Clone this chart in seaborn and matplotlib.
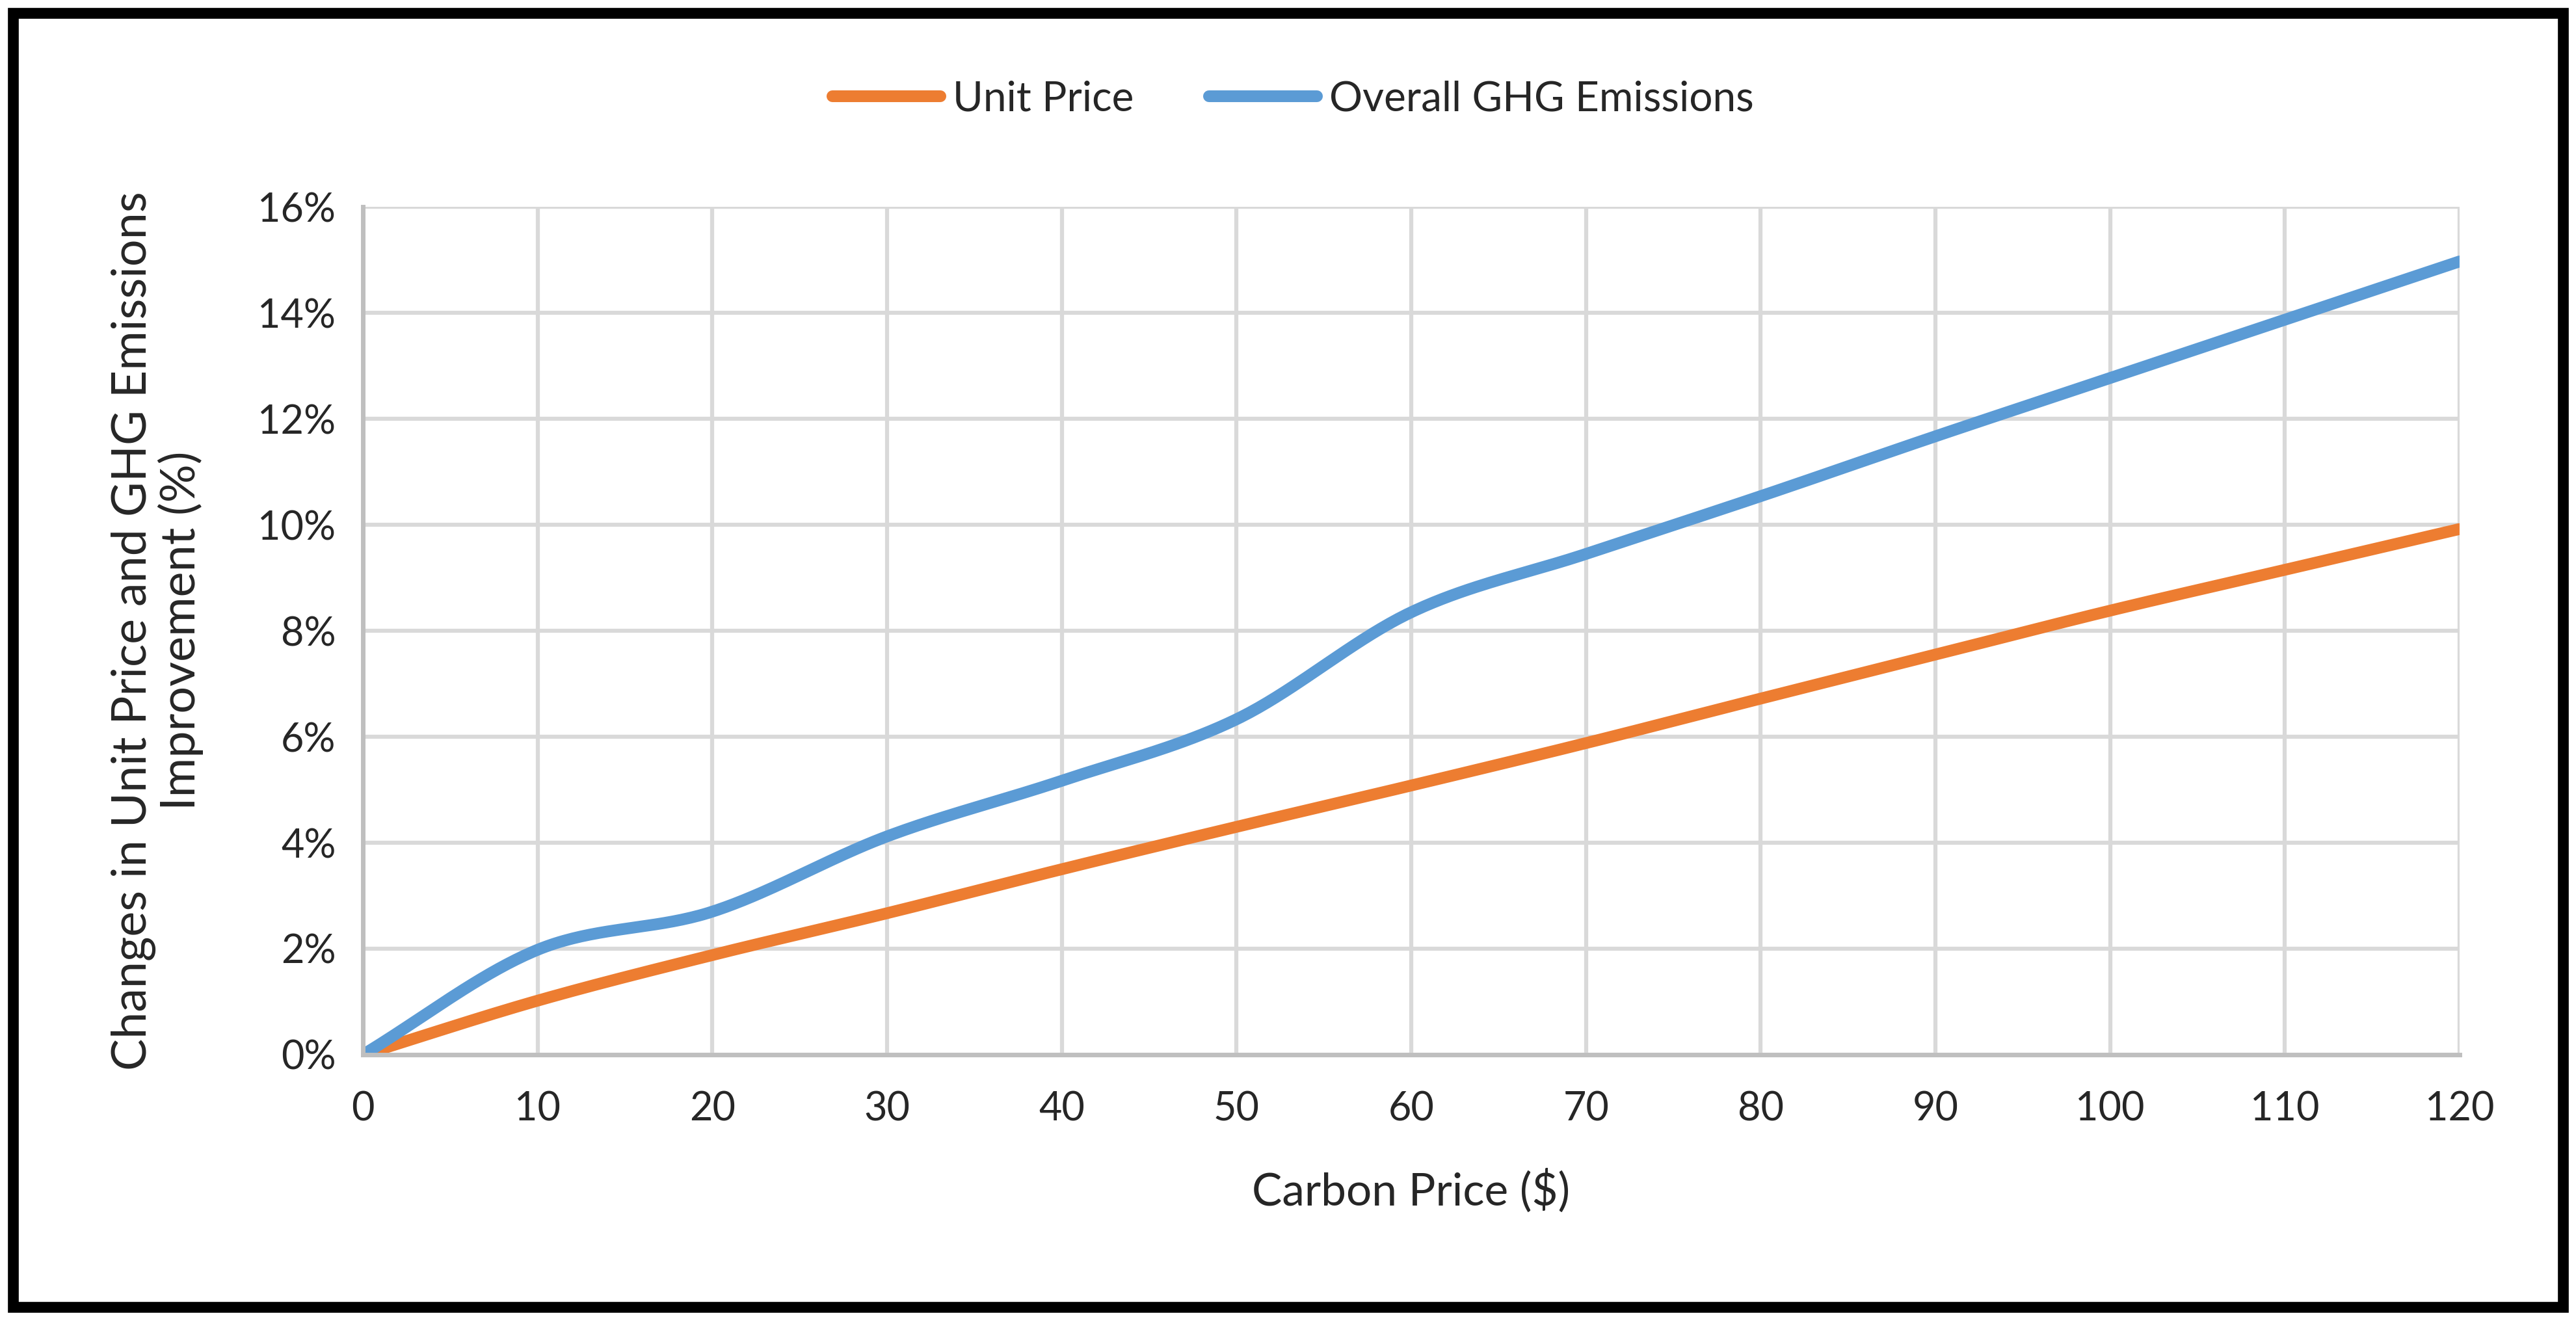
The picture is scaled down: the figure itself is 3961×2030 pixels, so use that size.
import numpy as np
import pandas as pd
import matplotlib
matplotlib.use("Agg")
import matplotlib.pyplot as plt
import seaborn as sns
from matplotlib.patches import Rectangle
from matplotlib.ticker import FuncFormatter

carbon_price = [0, 10, 20, 30, 40, 50, 60, 70, 80, 90, 100, 110, 120]
unit_price = [0.0, 1.02, 1.88, 2.67, 3.50, 4.30, 5.08, 5.88, 6.72, 7.55, 8.38, 9.15, 9.92]
ghg_emissions = [0.0, 1.98, 2.70, 4.12, 5.17, 6.33, 8.35, 9.45, 10.54, 11.67, 12.77, 13.87, 14.97]
series_names = ["Unit Price", "Overall GHG Emissions"]
colors = ["#ED7D31", "#5B9BD5"]


def smooth(x, y, n=40):
    # Catmull-Rom rendering of a smoothed line through the data points
    x = np.asarray(x, float)
    y = np.asarray(y, float)
    px = np.concatenate([[2 * x[0] - x[1]], x, [2 * x[-1] - x[-2]]])
    py = np.concatenate([[2 * y[0] - y[1]], y, [2 * y[-1] - y[-2]]])
    xs, ys = [], []
    t = np.linspace(0, 1, n, endpoint=False)
    for i in range(1, len(px) - 2):
        for arr, out in ((px, xs), (py, ys)):
            p0, p1, p2, p3 = arr[i - 1], arr[i], arr[i + 1], arr[i + 2]
            out.extend(0.5 * ((2 * p1) + (-p0 + p2) * t
                              + (2 * p0 - 5 * p1 + 4 * p2 - p3) * t ** 2
                              + (-p0 + 3 * p1 - 3 * p2 + p3) * t ** 3))
    xs.append(x[-1]); ys.append(y[-1])
    return np.array(xs), np.array(ys)


frames = []
for name, vals in zip(series_names, [unit_price, ghg_emissions]):
    sx, sy = smooth(carbon_price, vals)
    frames.append(pd.DataFrame({"Carbon Price": sx, "Value": sy, "Series": name}))
df = pd.concat(frames, ignore_index=True)

sns.set_style("white")
plt.rcParams["font.family"] = ["Lato", "DejaVu Sans"]

fig = plt.figure(figsize=(39.61, 20.30), dpi=100)
ax = fig.add_axes([0.1409, 0.201, 0.8139, 0.6423])

sns.lineplot(data=df, x="Carbon Price", y="Value", hue="Series",
             palette=dict(zip(series_names, colors)), linewidth=13,
             estimator=None, sort=False, ax=ax, solid_capstyle="round")

ax.set_xlim(0, 120)
ax.set_ylim(0, 16)
ax.set_xticks(range(0, 121, 10))
ax.set_yticks(range(0, 17, 2))
ax.yaxis.set_major_formatter(FuncFormatter(lambda v, p: f"{int(v)}%"))
ax.tick_params(axis="both", labelsize=44, length=0)
ax.tick_params(axis="x", pad=40)
ax.tick_params(axis="y", pad=30)
ax.grid(True, color="#d9d9d9", linewidth=4.5)
ax.set_axisbelow(True)
for s in ["top", "right"]:
    ax.spines[s].set_visible(False)
for s in ["left", "bottom"]:
    ax.spines[s].set_color("#bfbfbf")
    ax.spines[s].set_linewidth(5)

ax.set_xlabel("Carbon Price ($)", fontsize=50, labelpad=45)
ax.set_ylabel("Changes in Unit Price and GHG Emissions\nImprovement (%)",
              fontsize=53, labelpad=60, linespacing=1.05)

ax.legend(loc="center", bbox_to_anchor=(0.502, 0.925), bbox_transform=fig.transFigure,
          ncol=2, frameon=False, fontsize=46, handlelength=2.6, columnspacing=1.8,
          handletextpad=0.3, title=None)
for h in ax.get_legend().get_lines():
    h.set_linewidth(13)
    h.set_solid_capstyle("round")

fig.patches.append(Rectangle((0.005, 0.01), 0.99, 0.98, transform=fig.transFigure,
                             fill=False, edgecolor="black", linewidth=12))

fig.savefig("out.png", dpi=100, facecolor="white")
